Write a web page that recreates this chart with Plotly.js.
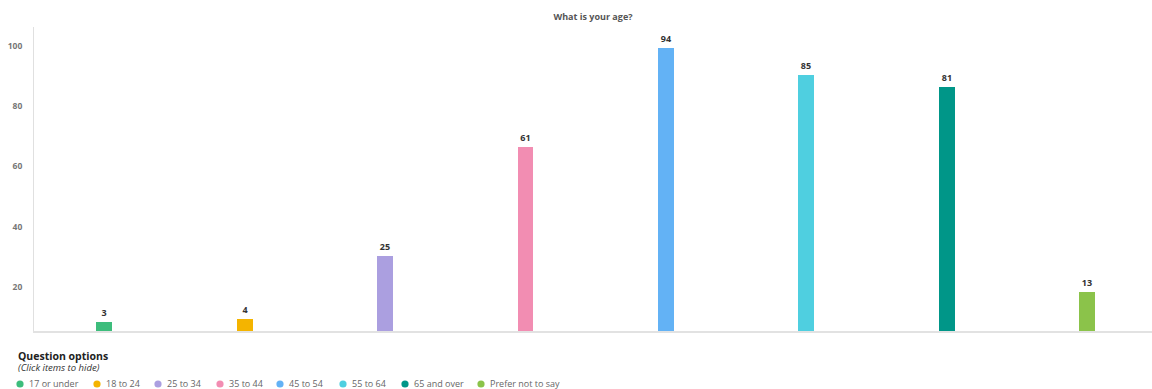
<!DOCTYPE html>
<html>
<head>
<meta charset="utf-8">
<script src="https://cdn.plot.ly/plotly-3.0.1.min.js"></script>
<style>
  html, body { margin: 0; padding: 0; background: #fff; }
  #chart { width: 1152px; height: 389px; }
</style>
</head>
<body>
<div id="chart"></div>
<script>
// ---- data ----
const categories = ["17 or under", "18 to 24", "25 to 34", "35 to 44", "45 to 54", "55 to 64", "65 and over", "Prefer not to say"];
const counts = [3, 4, 25, 61, 94, 85, 81, 13];
const yTickValues = [20, 40, 60, 80, 100];
const chartTitle = "What is your age?";
const legendTitle = "Question options";
const legendHint = "(Click items to hide)";

// ---- styles / layout ----
const barColors = ["#3dbd7c", "#f4b400", "#ab9fe0", "#f28db2", "#63b2f5", "#4fcfe0", "#009688", "#8bc34a"];
const legendDotPx = [20, 97, 158, 220, 280, 343, 405, 481]; // legend dot centres (px)
const FONT = "Open Sans, Noto Sans, DejaVu Sans, sans-serif";

const W = 1152, H = 389;
const mL = 34, mR = 0, mT = 27, mB = 58;
const plotW = W - mL - mR, plotH = H - mT - mB;
function px2paperX(px) { return (px - mL) / plotW; }
function py2paperY(py) { return 1 - (py - mT) / plotH; }

const trace = {
  type: "bar",
  x: categories,
  y: counts,
  width: 0.113,
  marker: { color: barColors, line: { width: 0 } },
  texttemplate: "%{y}",
  textposition: "outside",
  constraintext: "none",
  cliponaxis: false,
  textfont: { family: FONT, size: 9, color: "#333", weight: "bold" },
  hoverinfo: "x+y",
  showlegend: false
};

const legendY = 383.5;
const annotations = [
  {
    text: "<b>" + legendTitle + "</b>",
    xref: "paper", yref: "paper",
    x: px2paperX(17), y: py2paperY(355.5),
    xanchor: "left", yanchor: "middle",
    showarrow: false, borderpad: 0,
    font: { family: FONT, size: 10.5, color: "#222" }
  },
  {
    text: "<i>" + legendHint + "</i>",
    xref: "paper", yref: "paper",
    x: px2paperX(17), y: py2paperY(367),
    xanchor: "left", yanchor: "middle",
    showarrow: false, borderpad: 0,
    font: { family: FONT, size: 9.5, color: "#333" }
  }
];
const shapes = [];
categories.forEach((c, i) => {
  const cx = px2paperX(legendDotPx[i]);
  const cy = py2paperY(legendY + 0.5);
  shapes.push({
    type: "circle", xref: "paper", yref: "paper",
    xsizemode: "pixel", ysizemode: "pixel",
    xanchor: cx, yanchor: cy,
    x0: -3.6, x1: 3.6, y0: -3.6, y1: 3.6,
    fillcolor: barColors[i], line: { width: 0 }
  });
  annotations.push({
    text: c,
    xref: "paper", yref: "paper",
    x: px2paperX(legendDotPx[i] + 8), y: py2paperY(legendY),
    xanchor: "left", yanchor: "middle",
    showarrow: false,
    borderpad: 0,
    font: { family: FONT, size: 9, color: "#666" }
  });
});

const layout = {
  width: W,
  height: H,
  margin: { l: mL, r: mR, t: mT, b: mB, pad: 0 },
  paper_bgcolor: "#ffffff",
  plot_bgcolor: "#ffffff",
  showlegend: false,
  bargap: 0,
  font: { family: FONT, color: "#666" },
  title: {
    text: chartTitle,
    font: { family: FONT, size: 9, color: "#555", weight: "bold" },
    x: 0.5, xref: "paper", xanchor: "center",
    y: 1 - 17 / H, yref: "container", yanchor: "middle"
  },
  xaxis: {
    type: "category",
    range: [-0.5, -0.5 + plotW / 140.43],
    showticklabels: false,
    ticks: "",
    showgrid: false,
    zeroline: false,
    showline: true,
    linecolor: "#e2e2e2",
    linewidth: 2,
    fixedrange: true
  },
  yaxis: {
    range: [0, 101],
    tickvals: yTickValues,
    ticktext: yTickValues.map(String),
    ticks: "",
    ticklabelshift: 16,
    ticklabelstandoff: 9,
    tickfont: { family: FONT, size: 8.5, color: "#777", weight: "bold" },
    showgrid: false,
    zeroline: false,
    showline: true,
    linecolor: "#e0e0e0",
    linewidth: 1,
    fixedrange: true
  },
  shapes: shapes,
  annotations: annotations
};

Plotly.newPlot("chart", [trace], layout, { displayModeBar: false });
</script>
</body>
</html>
